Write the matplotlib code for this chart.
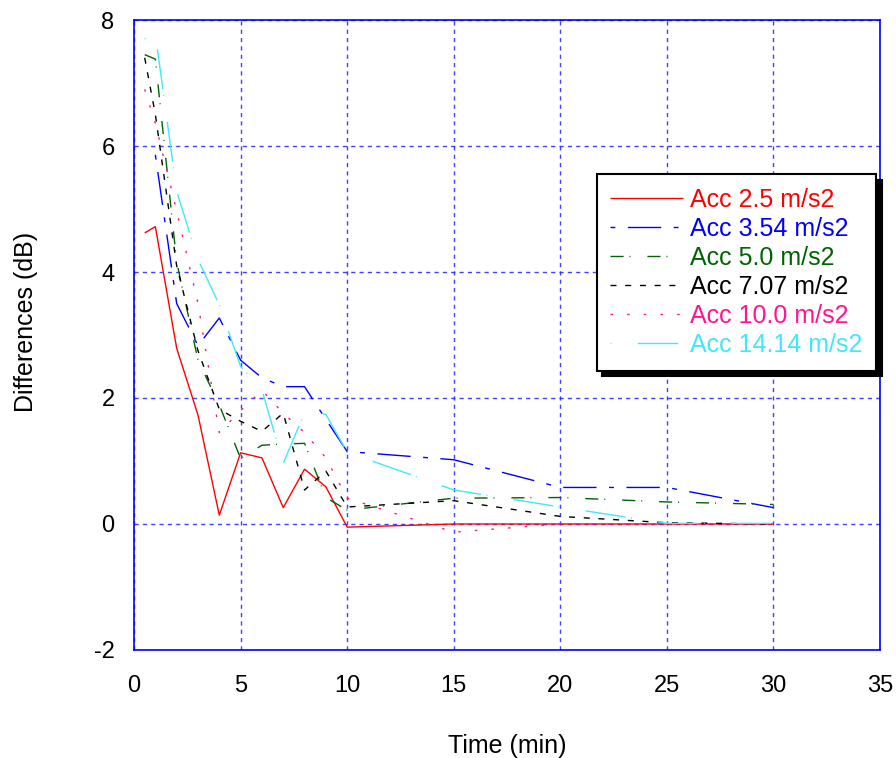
import matplotlib.pyplot as plt

plt.rcParams['font.family'] = ['Liberation Sans', 'DejaVu Sans']
plt.rcParams['axes.unicode_minus'] = False

# sampling times (min)
t_full = [0.5, 1, 2, 3, 4, 5, 6, 7, 8, 9, 10, 15, 20, 25, 30]
t_from1 = t_full[1:]

# level differences (dB) per excitation level
acc_2_5 = [4.62, 4.72, 2.79, 1.73, 0.14, 1.13, 1.05, 0.26, 0.87, 0.59, -0.05, 0.0, 0.0, 0.0, 0.0]
acc_3_54 = [5.86, 3.5, 2.83, 3.27, 2.6, 2.32, 2.18, 2.18, 1.66, 1.15, 1.02, 0.58, 0.58, 0.26]
acc_5_0 = [7.45, 7.38, 4.16, 2.6, 1.89, 1.04, 1.25, 1.27, 1.28, 0.42, 0.22, 0.41, 0.42, 0.35, 0.31]
acc_7_07 = [7.4, 6.5, 4.1, 2.75, 1.82, 1.63, 1.47, 1.76, 0.54, 0.84, 0.27, 0.37, 0.12, 0.02, 0.0]
acc_10_0 = [6.9, 6.36, 4.97, 3.5, 1.45, 1.8, 2.12, 1.76, 1.45, 1.05, 0.41, -0.13, 0.0, 0.0, 0.0]
acc_14_14 = [7.7, 7.78, 5.28, 4.2, 3.48, 2.5, 2.13, 0.96, 1.77, 1.74, 1.14, 0.54, 0.27, 0.01, 0.01]

labels = ['Acc 2.5 m/s2', 'Acc 3.54 m/s2', 'Acc 5.0 m/s2',
          'Acc 7.07 m/s2', 'Acc 10.0 m/s2', 'Acc 14.14 m/s2']
colors = ['#ff0000', '#0000ff', '#006400', '#000000', '#ff1493', '#40e8f8']
dash_styles = [
    (0, ()),
    (0, (3.5, 9, 24, 9)),
    (0, (9.4, 4.3, 0.7, 12.2)),
    (0, (4.3, 6.3)),
    (0, (1.8, 10.2)),
    (0, (0.7, 19, 29, 4)),
]

series = [(t_full, acc_2_5), (t_from1, acc_3_54), (t_full, acc_5_0),
          (t_full, acc_7_07), (t_full, acc_10_0), (t_full, acc_14_14)]

fig = plt.figure(figsize=(8.96, 7.58), dpi=100)
ax = fig.add_axes([0.1496, 0.1425, 0.8326, 0.8311])

for (x, y), lab, c, ls in zip(series, labels, colors, dash_styles):
    ax.plot(x, y, color=c, linestyle=ls, linewidth=1.0, label=lab)

ax.set_xlim(0, 35)
ax.set_ylim(-2, 8)
ax.set_xticks(range(0, 36, 5))
ax.set_yticks(range(-2, 9, 2))
ax.grid(True, color='#2020ff', linestyle=(0, (3, 3)), linewidth=1.0, alpha=0.85)
ax.tick_params(length=0, labelsize=17, pad=14)
ax.tick_params(axis='x', pad=18)
for sp in ax.spines.values():
    sp.set_color('#0000ff')
    sp.set_linewidth(1.2)

ax.set_xlabel('Time (min)', fontsize=18, labelpad=27)
ax.set_ylabel('Differences (dB)', fontsize=18, labelpad=40, y=0.52)

leg = ax.legend(loc='upper left', bbox_to_anchor=(0.62, 0.755), borderaxespad=0,
                fontsize=18, handlelength=2.9, handletextpad=0.3,
                labelspacing=0.2, borderpad=0.55, fancybox=False,
                framealpha=1, edgecolor='black',
                shadow={'ox': 4, 'oy': -4, 'color': 'black', 'alpha': 1})
leg.get_frame().set_linewidth(1.5)
for txt, c in zip(leg.get_texts(), colors):
    txt.set_color(c)

fig.savefig('out.png', dpi=100)
